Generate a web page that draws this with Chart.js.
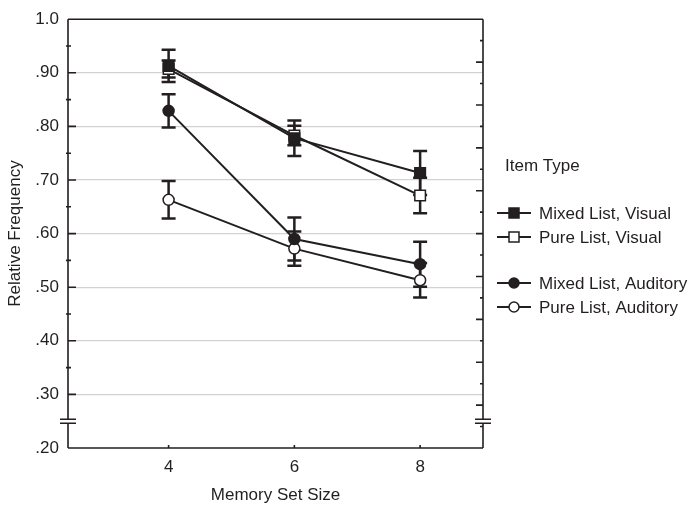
<!DOCTYPE html>
<html>
<head>
<meta charset="utf-8">
<script src="https://cdn.jsdelivr.net/npm/chart.js@4.4.1/dist/chart.umd.min.js"></script>
<style>
  html, body { margin: 0; padding: 0; background: #fff; }
</style>
</head>
<body>
<canvas id="chart" width="694" height="507"></canvas>
<script>
// data
const setSizes = [4, 6, 8];
const mixedVisual = [0.913, 0.778, 0.713];
const mixedVisualErr = [0.030, 0.033, 0.041];
const pureVisual = [0.907, 0.783, 0.671];
const pureVisualErr = [0.016, 0.018, 0.033];
const mixedAuditory = [0.829, 0.590, 0.543];
const mixedAuditoryErr = [0.031, 0.040, 0.042];
const pureAuditory = [0.663, 0.572, 0.513];
const pureAuditoryErr = [0.035, 0.032, 0.032];
const yTickValues = [0.2, 0.3, 0.4, 0.5, 0.6, 0.7, 0.8, 0.9, 1.0];
const legendTitle = "Item Type";

const INK = "#231f20";
const FONT = "'Liberation Sans', Arial, Helvetica, sans-serif";
const FS = 17;

function series(label, vals, errs, style, filled){
  return {
    label: label,
    data: setSizes.map((x,i)=>({x:x, y:vals[i]})),
    errors: errs,
    borderColor: INK,
    borderWidth: 2,
    pointStyle: style,
    pointRadius: style==='rect' ? 7.5 : 5.5,
    pointBorderWidth: 1.5,
    pointBorderColor: INK,
    pointBackgroundColor: filled ? INK : "#fff",
    tension: 0,
    fill: false
  };
}

const datasets = [
  series("Mixed List, Visual", mixedVisual, mixedVisualErr, 'rect', true),
  series("Pure List, Visual", pureVisual, pureVisualErr, 'rect', false),
  series("Mixed List, Auditory", mixedAuditory, mixedAuditoryErr, 'circle', true),
  series("Pure List, Auditory", pureAuditory, pureAuditoryErr, 'circle', false)
];

// frame, axis break, inner ticks, error bars, legend
const framePlugin = {
  id: 'frame',
  beforeDatasetsDraw(chart){
    const {ctx, chartArea: a, scales: {x, y}} = chart;
    const br = y.getPixelForValue(0.25);
    ctx.save();
    ctx.strokeStyle = INK;
    ctx.lineWidth = 1.6;
    ctx.beginPath();
    ctx.moveTo(a.left, a.top); ctx.lineTo(a.right, a.top);
    ctx.moveTo(a.left, a.bottom); ctx.lineTo(a.right, a.bottom);
    [a.left, a.right].forEach(px=>{
      ctx.moveTo(px, a.top); ctx.lineTo(px, br-2);
      ctx.moveTo(px, br+2); ctx.lineTo(px, a.bottom);
      ctx.moveTo(px-8, br-2); ctx.lineTo(px+8, br-2);
      ctx.moveTo(px-8, br+2); ctx.lineTo(px+8, br+2);
    });
    // left major / minor
    yTickValues.slice(1,-1).forEach(v=>{
      const py = y.getPixelForValue(v);
      ctx.moveTo(a.left, py); ctx.lineTo(a.left+8, py);
      const pm = y.getPixelForValue(v+0.05);
      ctx.moveTo(a.left-2, pm); ctx.lineTo(a.left+3, pm);
    });
    // right side ticks
    for (let k=1;k<20;k++){
      const py = y.getPixelForValue(1.0 - 0.04*k);
      const len = k%2===0 ? 7 : 3;
      ctx.moveTo(a.right, py); ctx.lineTo(a.right-len, py);
    }
    // x ticks
    setSizes.forEach(v=>{
      const px = x.getPixelForValue(v);
      ctx.moveTo(px, a.bottom); ctx.lineTo(px, a.bottom-3);
    });
    ctx.stroke();

    // error bars
    ctx.lineWidth = 2.5;
    chart.data.datasets.forEach(ds=>{
      ds.data.forEach((p,i)=>{
        const px = x.getPixelForValue(p.x);
        const hi = y.getPixelForValue(p.y + ds.errors[i]);
        const lo = y.getPixelForValue(p.y - ds.errors[i]);
        ctx.beginPath();
        ctx.moveTo(px, hi); ctx.lineTo(px, lo);
        ctx.moveTo(px-7, hi); ctx.lineTo(px+7, hi);
        ctx.moveTo(px-7, lo); ctx.lineTo(px+7, lo);
        ctx.stroke();
      });
    });
    ctx.restore();
  },
  afterDraw(chart){
    const ctx = chart.ctx;
    ctx.save();
    ctx.font = FS + "px " + FONT;
    ctx.fillStyle = INK;
    ctx.textBaseline = 'middle';
    ctx.textAlign = 'left';
    ctx.fillText(legendTitle, 505, 166);
    const rows = [213, 237, 283, 307];
    chart.data.datasets.forEach((ds,i)=>{
      const ry = rows[i];
      ctx.strokeStyle = INK;
      ctx.lineWidth = 2;
      ctx.beginPath();
      ctx.moveTo(497, ry); ctx.lineTo(531, ry);
      ctx.stroke();
      ctx.lineWidth = 1.5;
      ctx.fillStyle = ds.pointBackgroundColor;
      ctx.beginPath();
      if (ds.pointStyle === 'rect') ctx.rect(509, ry-5, 10, 10);
      else ctx.arc(514, ry, 5, 0, Math.PI*2);
      ctx.fill(); ctx.stroke();
      ctx.fillStyle = INK;
      ctx.fillText(ds.label, 539, ry+1);
    });
    ctx.restore();
  }
};

new Chart(document.getElementById('chart'), {
  type: 'line',
  data: { datasets: datasets },
  plugins: [framePlugin],
  options: {
    responsive: false,
    animation: false,
    layout: { padding: { top: 16, right: 211, left: 0, bottom: 0 } },
    plugins: { legend: { display: false }, tooltip: { enabled: false } },
    scales: {
      x: {
        type: 'linear',
        min: 2.4, max: 9,
        afterBuildTicks: s => { s.ticks = setSizes.map(v=>({value:v})); },
        afterFit: s => { s.height = 59; },
        grid: { display: false, drawTicks: false },
        border: { display: false },
        ticks: { padding: 9, color: INK, font: { family: FONT, size: FS } },
        title: { display: true, text: 'Memory Set Size', color: INK,
                 font: { family: FONT, size: FS }, padding: { top: 0, bottom: 1 } }
      },
      y: {
        min: 0.2, max: 1.0,
        afterBuildTicks: s => { s.ticks = yTickValues.map(v=>({value:v})); },
        afterFit: s => { s.width = 68; },
        grid: {
          drawTicks: false,
          lineWidth: 1.2,
          color: c => (c.tick && (c.tick.value > 0.99 || c.tick.value < 0.21)) ? 'rgba(0,0,0,0)' : '#d2d2d2'
        },
        border: { display: false },
        ticks: {
          padding: 9, color: INK, font: { family: FONT, size: FS },
          callback: v => v > 0.99 ? '1.0' : '.' + Math.round(v*100)
        },
        title: { display: true, text: 'Relative Frequency', color: INK,
                 font: { family: FONT, size: FS }, padding: { top: 5, bottom: 0 } }
      }
    }
  }
});
</script>
</body>
</html>
